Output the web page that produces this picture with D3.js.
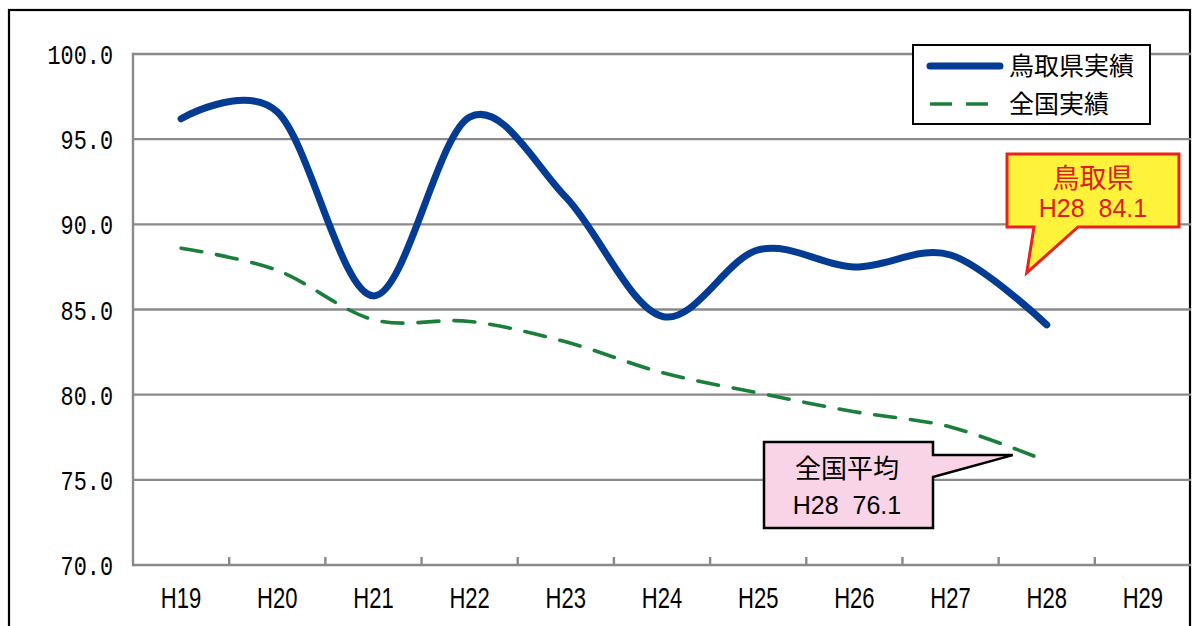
<!DOCTYPE html>
<html>
<head>
<meta charset="utf-8">
<script src="https://cdn.jsdelivr.net/npm/d3@7"></script>
<style>
  html, body { margin: 0; padding: 0; background: #fff; }
  svg { display: block; }
</style>
</head>
<body>
<svg id="chart" width="1192" height="626"></svg>
<script>
// Fiscal years (Heisei) on the category axis
const categories = ["H19", "H20", "H21", "H22", "H23", "H24", "H25", "H26", "H27", "H28", "H29"];
// 鳥取県実績
const tottoriValues = [96.2, 96.6, 85.8, 96.3, 91.6, 84.6, 88.5, 87.5, 88.2, 84.1];
// 全国実績
const nationalValues = [88.6, 87.3, 84.4, 84.3, 83.1, 81.3, 80.1, 79.0, 78.1, 76.1];
// Value axis ticks
const yTicks = [70, 75, 80, 85, 90, 95, 100];

const svg = d3.select("#chart");
const plot = { left: 133, top: 54, right: 1191, bottom: 565 };

const x = d3.scaleBand().domain(categories).range([plot.left, plot.right]).padding(0);
const y = d3.scaleLinear().domain([70, 100]).range([plot.bottom, plot.top]);
const cx = c => x(c) + x.bandwidth() / 2;

// outer frame
svg.append("rect")
  .attr("x", 9).attr("y", 10).attr("width", 1181).attr("height", 640)
  .attr("fill", "#fff").attr("stroke", "#000").attr("stroke-width", 2.2);

// horizontal gridlines
svg.append("g").selectAll("line").data(yTicks).join("line")
  .attr("x1", plot.left).attr("x2", plot.right)
  .attr("y1", d => y(d)).attr("y2", d => y(d))
  .attr("stroke", "#8a8a8a").attr("stroke-width", 2.4);

// left axis line
svg.append("line")
  .attr("x1", plot.left).attr("x2", plot.left)
  .attr("y1", plot.top - 1.2).attr("y2", plot.bottom + 1.2)
  .attr("stroke", "#8a8a8a").attr("stroke-width", 2.4);

// category ticks between bands
svg.append("g").selectAll("line").data(categories.slice(1)).join("line")
  .attr("x1", d => x(d)).attr("x2", d => x(d))
  .attr("y1", plot.bottom).attr("y2", plot.bottom - 8)
  .attr("stroke", "#8a8a8a").attr("stroke-width", 2.4);

// y tick labels
svg.append("g").selectAll("text").data(yTicks).join("text")
  .attr("transform", d => `translate(113,${y(d) + 10}) scale(0.78,1)`)
  .attr("text-anchor", "end")
  .attr("font-family", "'Liberation Mono', 'DejaVu Sans Mono', monospace")
  .attr("font-size", 28)
  .attr("fill", "#000")
  .text(d => d.toFixed(1));

// x tick labels
svg.append("g").selectAll("text").data(categories).join("text")
  .attr("transform", d => `translate(${cx(d)},${608}) scale(0.76,1)`)
  .attr("text-anchor", "middle")
  .attr("font-family", "'Liberation Sans', Arial, sans-serif")
  .attr("font-size", 29)
  .attr("fill", "#000")
  .text(d => d);

const line = d3.line()
  .x(d => cx(d.c))
  .y(d => y(d.v))
  .curve(d3.curveCardinal.tension(0));

const tottori = tottoriValues.map((v, i) => ({ c: categories[i], v }));
const national = nationalValues.map((v, i) => ({ c: categories[i], v }));

svg.append("path").datum(national)
  .attr("d", line)
  .attr("fill", "none")
  .attr("stroke", "#1b7f3b")
  .attr("stroke-width", 3.6)
  .attr("stroke-dasharray", "21,15")
  .attr("stroke-linecap", "round");

svg.append("path").datum(tottori)
  .attr("d", line)
  .attr("fill", "none")
  .attr("stroke", "#043b93")
  .attr("stroke-width", 7)
  .attr("stroke-linecap", "round")
  .attr("stroke-linejoin", "round");

// legend
const cjk = "'Noto Sans CJK JP', 'Noto Sans CJK SC', sans-serif";
const lg = svg.append("g");
lg.append("rect")
  .attr("x", 913).attr("y", 45).attr("width", 237).attr("height", 79)
  .attr("fill", "#fff").attr("stroke", "#000").attr("stroke-width", 2);
lg.append("line")
  .attr("x1", 930).attr("x2", 1000).attr("y1", 66).attr("y2", 66)
  .attr("stroke", "#043b93").attr("stroke-width", 7).attr("stroke-linecap", "round");
lg.append("line")
  .attr("x1", 930).attr("x2", 994).attr("y1", 104).attr("y2", 104)
  .attr("stroke", "#1b7f3b").attr("stroke-width", 3.6)
  .attr("stroke-dasharray", "22,14");
lg.append("text").attr("x", 1009).attr("y", 75)
  .attr("font-family", cjk).attr("font-size", 25).attr("fill", "#000")
  .text("鳥取県実績");
lg.append("text").attr("x", 1009).attr("y", 113)
  .attr("font-family", cjk).attr("font-size", 25).attr("fill", "#000")
  .text("全国実績");

const sp = "\u00a0\u00a0";

// callout for the latest Tottori value
const lastT = tottori[tottori.length - 1];
const tipT = [cx(lastT.c) - 20, y(lastT.v) - 52];
const boxT = { x0: 1007, y0: 154, x1: 1179, y1: 227 };
svg.append("path")
  .attr("d", `M${boxT.x0},${boxT.y0} H${boxT.x1} V${boxT.y1} H1078 L${tipT[0]},${tipT[1]} L1034,${boxT.y1} H${boxT.x0} Z`)
  .attr("fill", "#fff23a").attr("stroke", "#e8231b").attr("stroke-width", 3)
  .attr("stroke-linejoin", "miter");
svg.append("text").attr("x", 1093).attr("y", 188)
  .attr("text-anchor", "middle")
  .attr("font-family", cjk).attr("font-size", 27).attr("fill", "#e01b1b")
  .text("鳥取県");
svg.append("text").attr("x", 1093).attr("y", 217)
  .attr("text-anchor", "middle")
  .attr("font-family", "'Liberation Sans', Arial, sans-serif")
  .attr("font-size", 25).attr("fill", "#e01b1b")
  .text(`${lastT.c}${sp}${lastT.v.toFixed(1)}`);

// callout for the latest national value
const lastN = national[national.length - 1];
const tipN = [cx(lastN.c) - 34, y(lastN.v) - 6];
const boxN = { x0: 764, y0: 442, x1: 933, y1: 528 };
svg.append("path")
  .attr("d", `M${boxN.x0},${boxN.y0} H${boxN.x1} V455 L${tipN[0]},${tipN[1]} L${boxN.x1},477 V${boxN.y1} H${boxN.x0} Z`)
  .attr("fill", "#f9d4e7").attr("stroke", "#000").attr("stroke-width", 2.5)
  .attr("stroke-linejoin", "miter");
svg.append("text").attr("x", 847).attr("y", 478)
  .attr("text-anchor", "middle")
  .attr("font-family", cjk).attr("font-size", 26).attr("fill", "#000")
  .text("全国平均");
svg.append("text").attr("x", 847).attr("y", 514)
  .attr("text-anchor", "middle")
  .attr("font-family", "'Liberation Sans', Arial, sans-serif")
  .attr("font-size", 25).attr("fill", "#000")
  .text(`${lastN.c}${sp}${lastN.v.toFixed(1)}`);
</script>
</body>
</html>
